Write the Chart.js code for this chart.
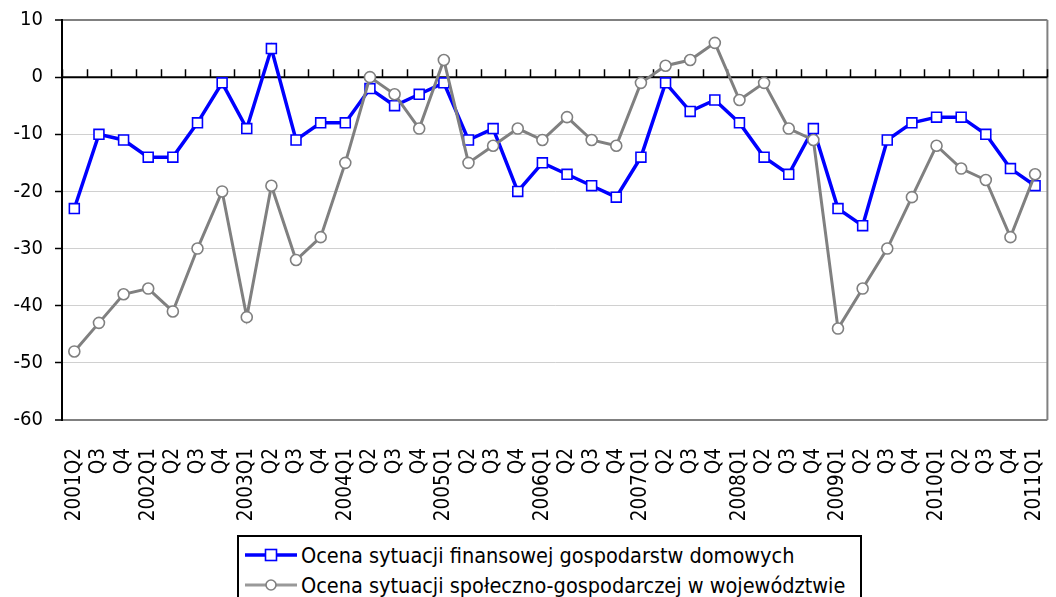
<!DOCTYPE html>
<html>
<head>
<meta charset="utf-8">
<script src="https://cdn.jsdelivr.net/npm/chart.js@4/dist/chart.umd.min.js"></script>
<style>
  html, body { margin: 0; padding: 0; background: #fff; overflow: hidden; }
  #wrap { position: relative; width: 1056px; height: 597px; }
  #legend {
    position: absolute; left: 237px; top: 535px; width: 625px; height: 80px;
    border: 2px solid #000; box-sizing: border-box; background: #fff;
    font-family: "DejaVu Sans Condensed", "DejaVu Sans", sans-serif; font-size: 21.5px; color: #000;
    padding-top: 3px;
  }
  .row { display: flex; align-items: center; height: 30px; padding-left: 6px; white-space: nowrap; }
  .row svg { margin-right: 4px; flex: none; }
</style>
</head>
<body>
<div id="wrap">
  <canvas id="c" width="1056" height="597"></canvas>
  <div id="legend"></div>
</div>
<script>
const categories = [
  "2001Q2","Q3","Q4",
  "2002Q1","Q2","Q3","Q4",
  "2003Q1","Q2","Q3","Q4",
  "2004Q1","Q2","Q3","Q4",
  "2005Q1","Q2","Q3","Q4",
  "2006Q1","Q2","Q3","Q4",
  "2007Q1","Q2","Q3","Q4",
  "2008Q1","Q2","Q3","Q4",
  "2009Q1","Q2","Q3","Q4",
  "2010Q1","Q2","Q3","Q4",
  "2011Q1"
];
const householdFinance = [
  -23, -10, -11,
  -14, -14, -8, -1,
  -9, 5, -11, -8,
  -8, -2, -5, -3,
  -1, -11, -9, -20,
  -15, -17, -19, -21,
  -14, -1, -6, -4,
  -8, -14, -17, -9,
  -23, -26, -11, -8,
  -7, -7, -10, -16,
  -19
];
const regionSocioEconomic = [
  -48, -43, -38,
  -37, -41, -30, -20,
  -42, -19, -32, -28,
  -15, 0, -3, -9,
  3, -15, -12, -9,
  -11, -7, -11, -12,
  -1, 2, 3, 6,
  -4, -1, -9, -11,
  -44, -37, -30, -21,
  -12, -16, -18, -28,
  -17
];
const seriesNames = [
  "Ocena sytuacji finansowej gospodarstw domowych",
  "Ocena sytuacji społeczno-gospodarczej w województwie"
];
const yMin = -60, yMax = 10, yStep = 10;

const BLUE = "#0000ff";
const GRAY = "#808080";
const FONT = "'DejaVu Sans Condensed', 'DejaVu Sans', sans-serif";

const axisPlugin = {
  id: "zeroAxis",
  beforeDatasetsDraw(chart) {
    const { ctx, chartArea, scales } = chart;
    const x = scales.x, y = scales.y;
    const y0 = y.getPixelForValue(0);
    ctx.save();
    ctx.strokeStyle = GRAY;
    ctx.lineWidth = 2;
    ctx.beginPath();
    ctx.moveTo(chartArea.right, chartArea.top);
    ctx.lineTo(chartArea.right, chartArea.bottom);
    ctx.stroke();
    ctx.strokeStyle = "#000";
    ctx.lineWidth = 2;
    ctx.beginPath();
    ctx.moveTo(chartArea.left, y0);
    ctx.lineTo(chartArea.right, y0);
    ctx.stroke();
    ctx.lineWidth = 1.5;
    const n = categories.length;
    const step = x.getPixelForValue(1) - x.getPixelForValue(0);
    ctx.beginPath();
    for (let i = 0; i <= n; i++) {
      const px = Math.round(x.getPixelForValue(i) - step / 2) + 0.5;
      ctx.moveTo(px, y0);
      ctx.lineTo(px, y0 - 8);
    }
    ctx.stroke();
    ctx.restore();
  }
};

new Chart(document.getElementById("c"), {
  type: "line",
  data: {
    labels: categories,
    datasets: [
      {
        label: seriesNames[0],
        data: householdFinance,
        borderColor: BLUE,
        borderWidth: 3.5,
        pointStyle: "rect",
        pointRadius: 7,
        pointBorderWidth: 1.6,
        pointBackgroundColor: "#fff",
        pointBorderColor: BLUE,
        tension: 0,
        order: 1
      },
      {
        label: seriesNames[1],
        data: regionSocioEconomic,
        borderColor: GRAY,
        borderWidth: 3,
        pointStyle: "circle",
        pointRadius: 5.5,
        pointBorderWidth: 1.6,
        pointBackgroundColor: "#fff",
        pointBorderColor: GRAY,
        tension: 0,
        order: 0
      }
    ]
  },
  options: {
    responsive: false,
    devicePixelRatio: 1,
    animation: false,
    layout: { padding: { top: 20, right: 1, left: 0, bottom: 0 } },
    plugins: { legend: { display: false }, tooltip: { enabled: false } },
    scales: {
      x: {
        offset: true,
        grid: { display: false },
        border: { display: false },
        ticks: {
          autoSkip: false, minRotation: 90, maxRotation: 90, padding: 20,
          color: "#000",
          font: { family: FONT, size: 20.5 }
        },
        afterFit(scale) {
          scale.height = 177;
          scale.paddingLeft = 0; scale.paddingRight = 0;
        }
      },
      y: {
        min: yMin, max: yMax,
        ticks: {
          stepSize: yStep, padding: 12, color: "#000",
          font: { family: FONT, size: 20 }
        },
        grid: {
          color: (c) => {
            const v = c.tick ? c.tick.value : null;
            if (v === yMax || v === yMin) return GRAY;
            if (v === 0) return "rgba(0,0,0,0)";
            return "#d0d0d0";
          },
          lineWidth: (c) => {
            const v = c.tick ? c.tick.value : null;
            return (v === yMax || v === yMin) ? 2 : 1;
          },
          tickColor: "#000",
          tickLength: 7,
          tickWidth: 1.5
        },
        border: { display: true, color: "#000", width: 2 },
        afterFit(scale) {
          scale.width = 62;
          scale.paddingTop = 0; scale.paddingBottom = 0;
        }
      }
    }
  },
  plugins: [axisPlugin]
});

const legend = document.getElementById("legend");
const markers = [
  '<svg width="52" height="20"><line x1="0" y1="10" x2="52" y2="10" stroke="' + BLUE + '" stroke-width="3.5"/><rect x="20.5" y="4.5" width="11" height="11" fill="#fff" stroke="' + BLUE + '" stroke-width="1.6"/></svg>',
  '<svg width="52" height="20"><line x1="0" y1="10" x2="52" y2="10" stroke="#999" stroke-width="3"/><circle cx="26" cy="10" r="5" fill="#fff" stroke="' + GRAY + '" stroke-width="1.6"/></svg>'
];
seriesNames.forEach((name, i) => {
  const row = document.createElement("div");
  row.className = "row";
  row.innerHTML = markers[i];
  const span = document.createElement("span");
  span.textContent = name;
  row.appendChild(span);
  legend.appendChild(row);
});
</script>
</body>
</html>
